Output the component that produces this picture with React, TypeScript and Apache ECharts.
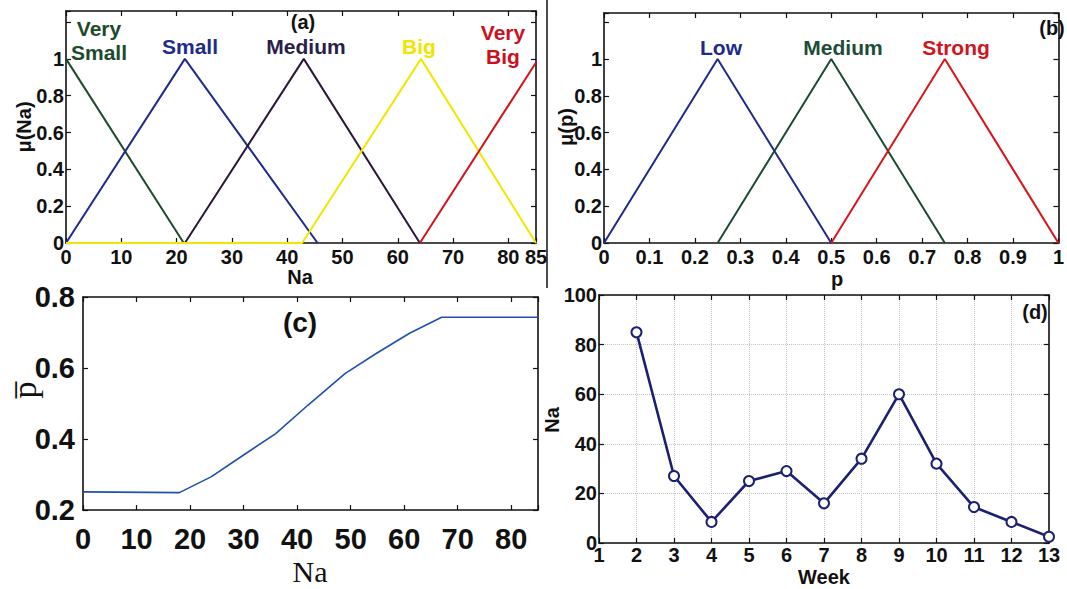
import React, { useEffect, useRef } from "react";
import * as echarts from "echarts";

// ---- Data ----
// (a) membership functions of Na
const veryS = [[0, 1], [21.3, 0]];
const smallNa = [[0, 0], [21.5, 1], [45.5, 0]];
const mediumNa = [[21.5, 0], [43, 1], [64, 0]];
const bigNa = [[0, 0], [42.7, 0], [64.2, 1], [85, 0]];
const veryBigNa = [[64, 0], [85, 0.98]];
// (b) membership functions of p
const lowP = [[0, 0], [0.25, 1], [0.5, 0]];
const mediumP = [[0.25, 0], [0.5, 1], [0.75, 0]];
const strongP = [[0.5, 0], [0.75, 1], [1, 0]];
// (c) p-bar vs Na
const naX = [0, 18, 24, 30, 36, 42, 49, 55, 61, 67, 85];
const pBar = [0.251, 0.249, 0.294, 0.355, 0.415, 0.495, 0.585, 0.643, 0.698, 0.743, 0.743];
// (d) Na per week
const weeks = [2, 3, 4, 5, 6, 7, 8, 9, 10, 11, 12, 13];
const weeklyNa = [85, 27, 8.5, 25, 29, 16, 34, 60, 32, 14.5, 8.5, 2.5];

const SANS = "'Liberation Sans', Arial, Helvetica, sans-serif";
const SERIF = "'Liberation Serif', 'Times New Roman', 'DejaVu Serif', serif";
const BLACK = "#111";

const axisLine = { show: true, onZero: false, lineStyle: { color: BLACK, width: 1.6 } };
const axisTick = { show: true, inside: true, length: 5, lineStyle: { color: BLACK, width: 1.2 } };
const dotted = { show: true, lineStyle: { color: "#c4c4c4", type: "dotted", width: 1 } };

function pair(kind: "x" | "y", grid: number, min: number, max: number, interval: number, label: any, split = false) {
  const pos = kind === "x" ? ["bottom", "top"] : ["left", "right"];
  return [
    { type: "value", gridIndex: grid, min, max, interval, position: pos[0], axisLine, axisTick, axisLabel: label, splitLine: split ? dotted : { show: false } },
    { type: "value", gridIndex: grid, min, max, interval, position: pos[1], axisLine, axisTick, axisLabel: { show: false }, splitLine: { show: false } },
  ];
}

const lab = (extra: any = {}) => ({ fontSize: 20, fontWeight: "bold", color: BLACK, fontFamily: SANS, ...extra });

function txt(text: string, x: number, y: number, size: number, fill = BLACK, family = SANS, extra: any = {}, rotation = 0) {
  return {
    type: "text", x, y, rotation, z: 100,
    style: { text, fill, fontSize: size, fontWeight: extra.weight ?? "bold", fontFamily: family, align: "center", verticalAlign: "middle", textAlign: "center", textVerticalAlign: "middle", lineHeight: extra.lineHeight ?? size },
  };
}

function line(data: number[][], color: string, xi: number, width = 2) {
  return { type: "line", xAxisIndex: xi, yAxisIndex: xi, data, showSymbol: false, symbol: "none", lineStyle: { color, width }, itemStyle: { color }, silent: true };
}

export default function App() {
  const ref = useRef<HTMLDivElement>(null);
  useEffect(() => {
    if (!ref.current) return;
    const chart = echarts.init(ref.current, undefined, { renderer: "svg" });
    const cLab = { fontSize: 29, fontWeight: "bold", color: BLACK, fontFamily: SANS };
    const option: any = {
      animation: false,
      backgroundColor: "#fff",
      grid: [
        { left: 66, top: 11, width: 470, height: 232 },
        { left: 604, top: 13, width: 466, height: 230 },
        { left: 83, top: 297, width: 455, height: 213 },
        { left: 599, top: 295, width: 450, height: 248 },
      ],
      xAxis: [
        ...pair("x", 0, 0, 85, 10, lab({ margin: 4 })),
        ...pair("x", 1, 0, 1, 0.1, lab({ margin: 4 })),
        ...pair("x", 2, 0, 85, 10, { ...cLab, margin: 14, formatter: (v: number) => (v > 80 ? "" : String(v)) }),
        ...pair("x", 3, 1, 13, 1, lab({ margin: 2 }), true),
      ],
      yAxis: [
        ...pair("y", 0, 0, 1.26, 0.2, lab({ margin: 2, formatter: (v: number) => (v > 1.001 ? "" : String(+v.toFixed(1))) })),
        ...pair("y", 1, 0, 1.25, 0.2, lab({ margin: 2, formatter: (v: number) => (v > 1.001 ? "" : String(+v.toFixed(1))) })),
        ...pair("y", 2, 0.2, 0.8, 0.2, { ...cLab, margin: 8, formatter: (v: number) => String(+v.toFixed(1)) }),
        ...pair("y", 3, 0, 100, 20, lab({ margin: 2 }), true),
      ],
      series: [
        line(veryS, "#1e4a2c", 0),
        line(smallNa, "#1f2a8c", 0),
        line(mediumNa, "#2a1838", 0),
        line(bigNa, "#f2e600", 0),
        line(veryBigNa, "#d0121b", 0),
        line(lowP, "#1f2a8c", 2),
        line(mediumP, "#1a4a30", 2),
        line(strongP, "#d8141b", 2),
        line(naX.map((x, i) => [x, pBar[i]]), "#1f4fb0", 4, 1.6),
        {
          type: "line", xAxisIndex: 6, yAxisIndex: 6,
          data: weeks.map((w, i) => [w, weeklyNa[i]]),
          symbol: "emptyCircle", symbolSize: 10, showSymbol: true,
          lineStyle: { color: "#1b2070", width: 2.6 },
          itemStyle: { color: "#1b2070", borderColor: "#1b2070", borderWidth: 2 },
          silent: true,
        },
      ],
      graphic: [
        { type: "line", z: 100, shape: { x1: 547, y1: 0, x2: 547, y2: 288 }, style: { stroke: BLACK, lineWidth: 1.5 } },
        // panel (a)
        txt("(a)", 303, 22, 20),
        txt("Very\nSmall", 99, 40, 21, "#1e4a2c", SANS, { lineHeight: 24 }),
        txt("Small", 190, 46, 21, "#1f2a8c"),
        txt("Medium", 306, 46, 21, "#2a1f4a"),
        txt("Big", 419, 46, 21, "#f0e400"),
        txt("Very\nBig", 503, 44, 21, "#cc1020", SANS, { lineHeight: 24 }),
        txt("Na", 300, 277, 20),
        txt("μ(Na)", 24, 127, 20, BLACK, SANS, {}, Math.PI / 2),
        // panel (b)
        txt("Low", 721, 47, 21, "#1f2a8c"),
        txt("Medium", 843, 47, 21, "#1d4d36"),
        txt("Strong", 956, 47, 21, "#d0141d"),
        txt("(b)", 1052, 28, 20),
        txt("p", 837, 279, 20),
        txt("μ(p)", 566, 127, 20, BLACK, SANS, {}, Math.PI / 2),
        // panel (c)
        txt("(c)", 300, 322, 28, BLACK, SANS),
        txt("Na", 310, 571, 30, BLACK, SERIF, { weight: "normal" }),
        txt("p\u0305", 24, 390, 34, BLACK, SERIF, { weight: "normal" }, Math.PI / 2),
        // panel (d)
        txt("(d)", 1035, 312, 20),
        txt("Week", 824, 577, 20),
        txt("Na", 552, 420, 20, BLACK, SANS, {}, Math.PI / 2),
      ],
    };
    chart.setOption(option);
    return () => chart.dispose();
  }, []);
  return <div ref={ref} style={{ position: "fixed", left: 0, top: 0, width: 1067, height: 589, background: "#fff" }} />;
}
